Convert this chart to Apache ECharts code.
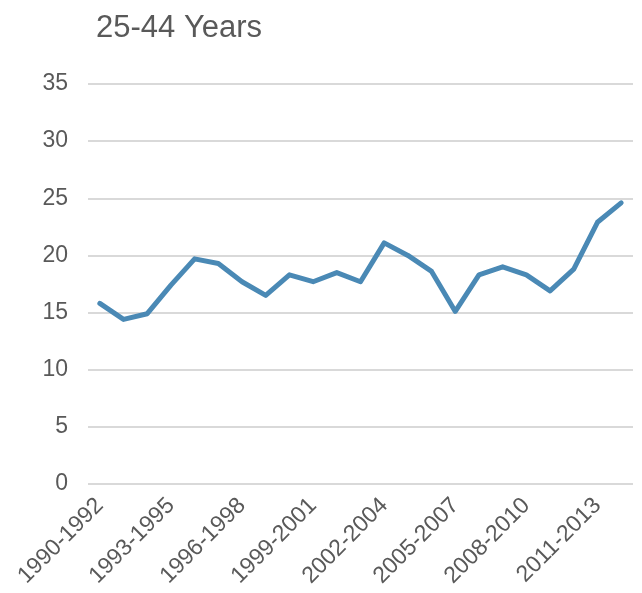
<!DOCTYPE html>
<html>
<head>
<meta charset="utf-8">
<script src="https://cdn.jsdelivr.net/npm/echarts@6/dist/echarts.min.js"></script>
<style>
  html, body { margin: 0; padding: 0; background: #ffffff; }
  #chart { width: 642px; height: 593px; }
</style>
</head>
<body>
<div id="chart"></div>
<script>
// Three-year rolling periods, 1990-1992 through 2012-2014
const periods = [
  '1990-1992', '1991-1993', '1992-1994', '1993-1995', '1994-1996', '1995-1997',
  '1996-1998', '1997-1999', '1998-2000', '1999-2001', '2000-2002', '2001-2003',
  '2002-2004', '2003-2005', '2004-2006', '2005-2007', '2006-2008', '2007-2009',
  '2008-2010', '2009-2011', '2010-2012', '2011-2013', '2012-2014'
];

// Rate for the 25-44 age group
const rates = [
  15.8, 14.4, 14.9, 17.4, 19.7, 19.3,
  17.7, 16.5, 18.3, 17.7, 18.5, 17.7,
  21.1, 20.0, 18.6, 15.1, 18.3, 19.0,
  18.3, 16.9, 18.8, 22.9, 24.6
];

const yTicks = { min: 0, max: 35, step: 5 };
const chartTitle = '25-44 Years';

const font = 'Liberation Sans, Arial, Helvetica, sans-serif';
const textGray = '#595959';

const chart = echarts.init(document.getElementById('chart'), null, { renderer: 'canvas' });

chart.setOption({
  animation: false,
  backgroundColor: '#ffffff',
  title: {
    text: chartTitle,
    left: 91,
    top: 8,
    textStyle: { fontFamily: font, fontSize: 31, fontWeight: 'normal', color: textGray }
  },
  grid: { left: 88, right: 9, top: 84, bottom: 109, containLabel: false },
  xAxis: {
    type: 'category',
    data: periods,
    boundaryGap: true,
    axisLine: { show: false },
    axisTick: { show: false },
    splitLine: { show: false },
    axisLabel: {
      interval: 2,
      rotate: 45,
      margin: 18,
      fontFamily: font,
      fontSize: 23,
      color: textGray
    }
  },
  yAxis: {
    type: 'value',
    min: yTicks.min,
    max: yTicks.max,
    interval: yTicks.step,
    axisLine: { show: false },
    axisTick: { show: false },
    axisLabel: { margin: 20, fontFamily: font, fontSize: 23, color: textGray },
    splitLine: { lineStyle: { color: '#d9d9d9', width: 2 } }
  },
  series: [{
    type: 'line',
    data: rates,
    symbol: 'none',
    lineStyle: { color: '#4a89b5', width: 5, cap: 'round', join: 'round' },
    itemStyle: { color: '#4a89b5' }
  }]
});
</script>
</body>
</html>
